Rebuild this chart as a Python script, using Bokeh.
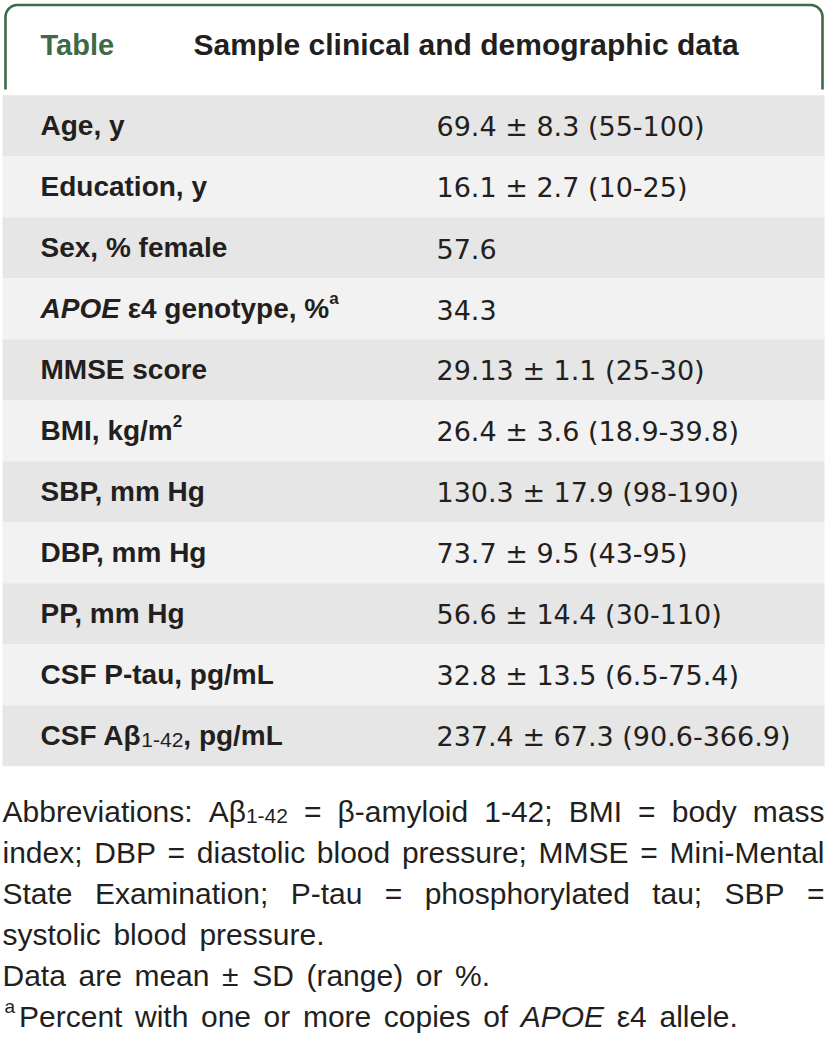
import re
import numpy as np
from bokeh.plotting import figure
from bokeh.models import ColumnDataSource, Range1d
from bokeh.core.properties import field
from bokeh.embed import file_html
from bokeh.resources import INLINE

# ---------------- data ----------------
table_tag = "Table"
table_title = "Sample clinical and demographic data"
row_labels = ["Age, y", "Education, y", "Sex, % female", "*APOE* ε4 genotype, %^{a}",
              "MMSE score", "BMI, kg/m^{2}", "SBP, mm Hg", "DBP, mm Hg", "PP, mm Hg",
              "CSF P-tau, pg/mL", "CSF Aβ_{1-42}, pg/mL"]
row_means = ["69.4", "16.1", "57.6", "34.3", "29.13", "26.4", "130.3", "73.7", "56.6", "32.8", "237.4"]
row_sds = ["8.3", "2.7", "", "", "1.1", "3.6", "17.9", "9.5", "14.4", "13.5", "67.3"]
row_ranges = ["55-100", "10-25", "", "", "25-30", "18.9-39.8", "98-190", "43-95", "30-110",
              "6.5-75.4", "90.6-366.9"]
footnotes = ["Abbreviations: Aβ_{1-42} = β-amyloid 1-42; BMI = body mass",
             "index; DBP = diastolic blood pressure; MMSE = Mini-Mental",
             "State Examination; P-tau = phosphorylated tau; SBP =",
             "systolic blood pressure.",
             "Data are mean ± SD (range) or %.",
             "^{a}Percent with one or more copies of *APOE* ε4 allele."]
footnote_justified = [True, True, True, False, False, False]

# ---------------- styling ----------------
GREEN = "#3d6a47"
INK = "#231f20"
ROW_COLORS = ["#e6e6e6", "#f2f2f2"]
ROW_TOP, ROW_H = 94.7, 61.0
LEFT, RIGHT = 2, 824
LIFT = 0.36  # renderer places text about this fraction of the font size low

REG = {' ': 278, '%': 889, '(': 333, ')': 333, ',': 278, '-': 333, '.': 278, '/': 278,
       ':': 278, ';': 278, '=': 584, '±': 584, 'β': 575, 'ε': 450,
       'A': 667, 'B': 667, 'C': 722, 'D': 722, 'E': 667, 'F': 611, 'G': 778, 'H': 722,
       'I': 278, 'L': 556, 'M': 833, 'N': 722, 'O': 778, 'P': 667, 'S': 667, 'T': 611,
       'a': 556, 'b': 556, 'c': 500, 'd': 556, 'e': 556, 'f': 278, 'g': 556, 'h': 556,
       'i': 222, 'k': 500, 'l': 222, 'm': 833, 'n': 556, 'o': 556, 'p': 556, 'r': 333,
       's': 500, 't': 278, 'u': 556, 'v': 500, 'w': 722, 'x': 500, 'y': 500, 'z': 500}
BOLD = dict(REG)
BOLD.update({'A': 722, 'B': 722, 'C': 722, 'L': 611, 'b': 611, 'c': 556, 'd': 611,
             'f': 333, 'g': 611, 'h': 611, 'i': 278, 'k': 556, 'l': 278, 'm': 889,
             'n': 611, 'o': 611, 'p': 611, 'r': 389, 's': 556, 't': 333, 'u': 611,
             'v': 556, 'x': 556, 'y': 556, 'β': 600, 'ε': 480})


def tw(s, size, bold):
    tab = BOLD if bold else REG
    return sum(tab.get(c, 556) for c in s) * size / 1000.0


def parse(word):
    out = []
    for tok in re.findall(r'_\{[^}]*\}|\^\{[^}]*\}|\*[^*]*\*|[^_^*]+', word):
        if tok.startswith('_{'):
            out.append(('sub', tok[2:-1]))
        elif tok.startswith('^{'):
            out.append(('sup', tok[2:-1]))
        elif tok.startswith('*'):
            out.append(('it', tok[1:-1]))
        else:
            out.append(('n', tok))
    return out


pieces = dict(x=[], y=[], text=[], font=[], size=[], style=[], color=[])


def add(x, y, t, font, size, style, color):
    pieces['x'].append(x); pieces['y'].append(y); pieces['text'].append(t)
    pieces['font'].append(font); pieces['size'].append(f"{size}px")
    pieces['style'].append(style); pieces['color'].append(color)


class Style:
    def __init__(self, size, bold, font, color, sub_size, sup_size, sub_dy, sup_dy,
                 sup_gap=0, sub_bold=False):
        self.size, self.bold, self.font, self.color = size, bold, font, color
        self.sub_size, self.sup_size, self.sub_dy, self.sup_dy = sub_size, sup_size, sub_dy, sup_dy
        self.sup_gap, self.sub_bold = sup_gap, sub_bold

    def seg_size(self, kind):
        return self.sub_size if kind == 'sub' else self.sup_size if kind == 'sup' else self.size

    def seg_bold(self, kind):
        return self.bold and (kind != 'sub' or self.sub_bold)

    def seg_width(self, kind, t):
        w = tw(t, self.seg_size(kind), self.seg_bold(kind))
        return w + (self.sup_gap if kind == 'sup' else 0)

    def put(self, x, base, kind, t):
        sz = self.seg_size(kind)
        dy = self.sub_dy if kind == 'sub' else -self.sup_dy if kind == 'sup' else 0
        st = []
        if self.seg_bold(kind):
            st.append('bold')
        if kind == 'it':
            st.append('italic')
        add(x, base + dy - LIFT * self.size, t, self.font, sz,
            ' '.join(st) if st else 'normal', self.color)
        return self.seg_width(kind, t)


def flow(s, x0, base, sty):
    """Place a rich string segment by segment (natural spacing)."""
    x = x0
    sp = tw(' ', sty.size, sty.bold)
    for kind, t in parse(s):
        lead = len(t) - len(t.lstrip(' '))
        trail = len(t) - len(t.rstrip(' '))
        x += lead * sp
        t = t.strip(' ')
        if t:
            x += sty.put(x, base, kind, t)
        x += trail * sp


def words(s, x0, base, sty, width=None, space_em=0.42):
    """Place a rich string word by word, optionally justified to width."""
    ws = [parse(w) for w in s.split(' ')]
    ww = [sum(sty.seg_width(k, t) for k, t in w) for w in ws]
    if width is not None and len(ws) > 1:
        gap = (width - sum(ww)) / (len(ws) - 1)
    else:
        gap = space_em * sty.size
    x = x0
    for w in ws:
        for k, t in w:
            x += sty.put(x, base, k, t)
        x += gap


# title
add(40, 54.5 - LIFT * 29, table_tag, "Liberation Sans", 29, "bold", GREEN)
add(193, 54.5 - LIFT * 30, table_title, "Liberation Sans", 30, "bold", INK)

# rows
label_style = Style(28, True, "Liberation Sans", INK, 21, 17, 4, 10)
tops = [ROW_TOP + i * ROW_H for i in range(len(row_labels))]
for i, lab in enumerate(row_labels):
    center = tops[i] + ROW_H / 2
    flow(lab, 40, center + 10, label_style)
    val = row_means[i] if not row_sds[i] else f"{row_means[i]} ± {row_sds[i]} ({row_ranges[i]})"
    add(436, center + 11 - LIFT * 27, val, "DejaVu Sans", 27, "normal", INK)

# footnotes
note_style = Style(30, False, "Liberation Sans", INK, 21, 19, 5, 10, sup_gap=4)
for j, (fn, just) in enumerate(zip(footnotes, footnote_justified)):
    base = 821.7 + j * 41.0
    words(fn, LEFT + (2 if fn.startswith('^') else 0), base, note_style,
          width=(RIGHT - LEFT) if just else None)

# ---------------- figure ----------------
p = figure(width=828, height=1039, output_backend="svg", toolbar_location=None,
           x_range=Range1d(0, 828), y_range=Range1d(1039, 0), min_border=0)
p.axis.visible = False
p.grid.visible = False
p.outline_line_color = None
p.background_fill_color = "white"
p.border_fill_color = "white"

p.quad(left=[LEFT] * len(tops), right=[RIGHT] * len(tops), top=tops,
       bottom=[t + ROW_H for t in tops],
       fill_color=[ROW_COLORS[i % 2] for i in range(len(tops))], line_color=None)

# green frame with rounded top corners
r = 12
xl, xr, yt, yb = 5, 822, 4.5, 89
t1 = np.linspace(0, np.pi / 2, 20)
bx = np.concatenate([[xl], xl + r - r * np.cos(t1), xr - r + r * np.cos(t1[::-1]), [xr]])
by = np.concatenate([[yb], yt + r - r * np.sin(t1), yt + r - r * np.sin(t1[::-1]), [yb]])
p.line(bx, by, line_color=GREEN, line_width=2.6)

src = ColumnDataSource(pieces)
p.text(x='x', y='y', text='text', source=src, text_font=field('font'),
       text_font_size=field('size'), text_font_style=field('style'),
       text_color=field('color'), text_baseline='alphabetic', text_align='left')

open("out.html", "w").write(file_html(p, INLINE))
